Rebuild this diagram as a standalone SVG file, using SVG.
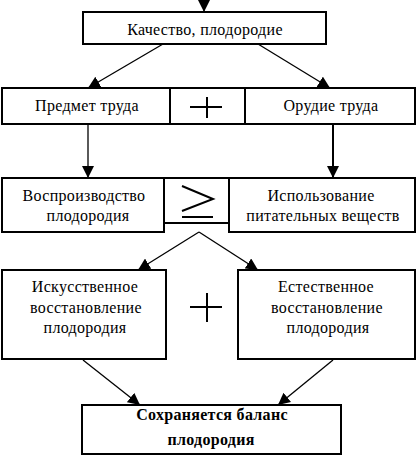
<svg xmlns="http://www.w3.org/2000/svg" width="419" height="455" viewBox="0 0 419 455">
<defs>
<marker id="arr" viewBox="0 0 12 12" refX="12" refY="6" markerWidth="12" markerHeight="12" markerUnits="userSpaceOnUse" orient="auto">
<path d="M0,0 L12,6 L0,12 Z" fill="#000"/>
</marker>
</defs>
<style>
.box{fill:#fff;stroke:#000;stroke-width:2}
.t{font-family:'Liberation Serif','DejaVu Serif',serif;font-size:16px;letter-spacing:0.3px;fill:#000;text-anchor:middle}
.b{font-weight:bold}
.c{stroke:#000;stroke-width:1.3;fill:none}
.sym{stroke:#000;stroke-width:2;fill:none}
</style>
<rect width="419" height="455" fill="#fff"/>
<g id="connectors">
<line class="c" x1="204" y1="0" x2="204" y2="12" marker-end="url(#arr)"/>
<line class="c" x1="163" y1="44" x2="88" y2="88" marker-end="url(#arr)"/>
<line class="c" x1="258" y1="44" x2="330" y2="88" marker-end="url(#arr)"/>
<line class="c" x1="88" y1="124" x2="88" y2="178" marker-end="url(#arr)"/>
<line class="c" x1="333" y1="124" x2="333" y2="178" style="stroke-width:2" marker-end="url(#arr)"/>
<line class="c" x1="199" y1="232" x2="138" y2="270" marker-end="url(#arr)"/>
<line class="c" x1="199" y1="232" x2="258" y2="270" marker-end="url(#arr)"/>
<line class="c" x1="83" y1="360" x2="140" y2="405" marker-end="url(#arr)"/>
<line class="c" x1="333" y1="360" x2="278" y2="405" marker-end="url(#arr)"/>
</g>
<g id="n-quality">
<rect class="box" x="83" y="12" width="243" height="32"/>
<text class="t" x="205" y="35">Качество, плодородие</text>
</g>
<g id="n-subject">
<rect class="box" x="2" y="88" width="168" height="36"/>
<text class="t" x="87" y="111">Предмет труда</text>
</g>
<g id="n-plus1">
<rect class="box" x="170" y="88" width="75" height="36"/>
<line class="sym" x1="190" y1="107" x2="222" y2="107"/>
<line class="sym" x1="207" y1="97" x2="207" y2="118"/>
</g>
<g id="n-tool">
<rect class="box" x="245" y="88" width="170" height="36"/>
<text class="t" x="331" y="111">Орудие труда</text>
</g>
<g id="n-repro">
<rect class="box" x="2" y="178" width="162" height="54"/>
<text class="t" x="84" y="201">Воспроизводство</text>
<text class="t" x="88" y="221">плодородия</text>
</g>
<g id="n-geq">
<rect class="box" x="164" y="178" width="65" height="45"/>
<polyline class="sym" points="182,186 213,199 182,211"/>
<line class="sym" x1="182" y1="217" x2="213" y2="217"/>
</g>
<g id="n-use">
<rect class="box" x="229" y="178" width="186" height="54"/>
<text class="t" x="321" y="201">Использование</text>
<text class="t" x="323" y="221">питательных веществ</text>
</g>
<g id="n-artificial">
<rect class="box" x="2" y="270" width="164" height="89"/>
<text class="t" x="85" y="292">Искусственное</text>
<text class="t" x="86" y="313">восстановление</text>
<text class="t" x="85" y="333">плодородия</text>
</g>
<g id="n-plus2">
<line class="sym" x1="190" y1="307" x2="222" y2="307"/>
<line class="sym" x1="207" y1="293" x2="207" y2="322"/>
</g>
<g id="n-natural">
<rect class="box" x="238" y="270" width="177" height="89"/>
<text class="t" x="326" y="292">Естественное</text>
<text class="t" x="327" y="313">восстановление</text>
<text class="t" x="328" y="333">плодородия</text>
</g>
<g id="n-balance">
<rect class="box" x="82" y="405" width="259" height="49"/>
<text class="t b" x="212" y="420">Сохраняется баланс</text>
<text class="t b" x="211" y="445">плодородия</text>
</g>
</svg>
